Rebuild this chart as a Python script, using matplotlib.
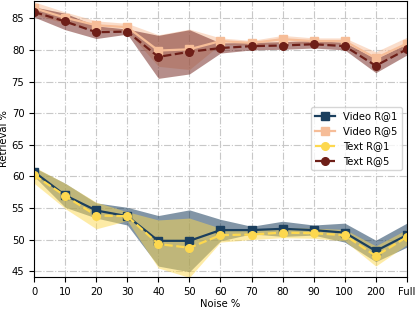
import numpy as np
import matplotlib
matplotlib.use('Agg')
import matplotlib.pyplot as plt

labels = ['0', '10', '20', '30', '40', '50', '60', '70', '80', '90', '100', '200', 'Full']

video_r1 = [60.7, 57.0, 54.6, 53.7, 49.8, 49.8, 51.5, 51.5, 51.7, 51.5, 51.1, 48.2, 50.7]
video_r1_std = [0.7, 1.9, 1.2, 1.4, 4.0, 4.9, 1.7, 0.6, 1.2, 0.8, 1.5, 1.7, 1.9]
video_r5 = [86.6, 85.1, 83.9, 83.6, 79.9, 80.1, 81.4, 81.1, 81.7, 81.4, 81.4, 78.7, 81.0]
video_r5_std = [1.0, 0.9, 0.7, 0.6, 2.5, 3.2, 0.5, 0.4, 0.6, 0.5, 0.5, 1.0, 1.0]
text_r1 = [60.2, 56.9, 53.8, 53.7, 49.3, 48.7, 50.7, 50.8, 51.1, 51.0, 50.7, 47.4, 50.4]
text_r1_std = [1.3, 2.0, 2.1, 0.7, 3.8, 4.7, 1.1, 0.8, 0.8, 0.8, 0.9, 1.6, 1.2]
text_r5 = [86.0, 84.5, 82.8, 82.9, 78.9, 79.7, 80.3, 80.6, 80.7, 80.9, 80.6, 77.5, 80.1]
text_r5_std = [0.8, 1.3, 1.0, 0.4, 3.4, 3.5, 0.8, 0.6, 0.6, 0.6, 0.6, 1.1, 0.9]

x = np.arange(len(labels))

navy = '#1b3f5e'
peach = '#f6bd98'
yellow = '#fdd84f'
darkred = '#6e1f18'

plt.rcParams['font.size'] = 7.2
fig = plt.figure(figsize=(4.16, 3.09), dpi=100)
ax = fig.add_axes([0.082, 0.104, 0.896, 0.894])

series = [
    (video_r1, video_r1_std, navy, 's', '-', 'Video R@1', 0.55),
    (video_r5, video_r5_std, peach, 's', '-', 'Video R@5', 0.5),
    (text_r1, text_r1_std, yellow, 'o', '--', 'Text R@1', 0.5),
    (text_r5, text_r5_std, darkred, 'o', '--', 'Text R@5', 0.5),
]

for vals, std, c, m, ls, lab, a in series:
    vals = np.array(vals)
    std = np.array(std)
    ax.fill_between(x, vals - std, vals + std, color=c, alpha=a, linewidth=0)
for vals, std, c, m, ls, lab, a in series:
    ax.plot(x, vals, color=c, marker=m, linestyle=ls, label=lab,
            linewidth=1.6, markersize=5.5)

ax.grid(True, linestyle='-.', color='#c8c8c8', linewidth=0.8)
ax.set_axisbelow(True)
ax.set_xlim(0, 12)
ax.set_ylim(44.1, 87.8)
ax.set_xticks(x)
ax.set_xticklabels(labels)
ax.set_yticks(np.arange(45, 86, 5))
ax.set_xlabel('Noise %', labelpad=2)
ax.set_ylabel('Retrieval %', labelpad=2)
ax.legend(loc='center right', fontsize=7.2)

fig.savefig('out.png', dpi=100)
